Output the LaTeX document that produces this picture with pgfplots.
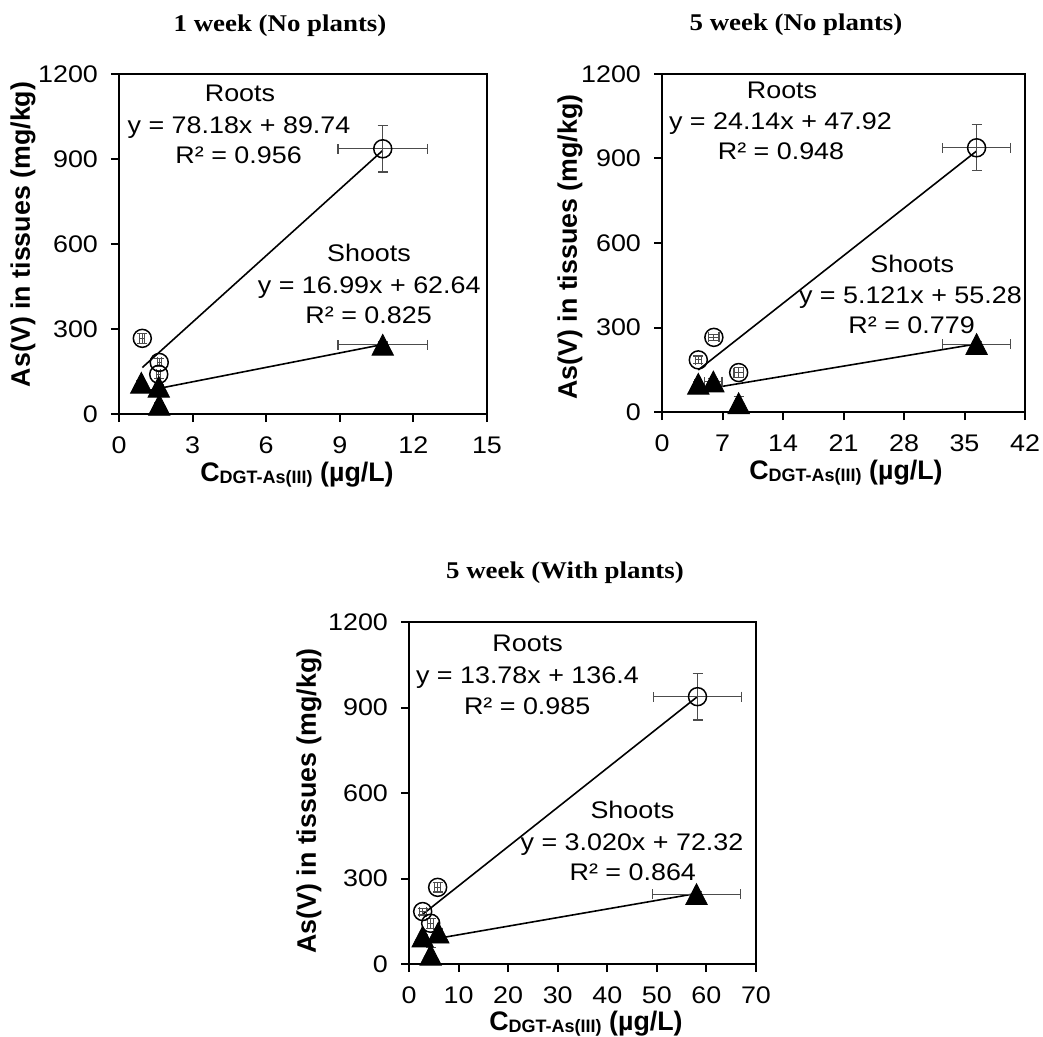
\documentclass[border=0pt]{standalone}
\usepackage{pgfplots}
\pgfplotsset{compat=1.18}
\usepackage{fontspec}
\setmainfont{Liberation Sans}[FakeStretch=1.12]
\newfontfamily\titlefont{Liberation Serif}[FakeStretch=1.12]
\newfontfamily\labfont{Liberation Sans}

% Soil data: DGT-measured As(III) vs As(V) in plant tissues
\pgfplotstableread{
x     y    ex    ey
0.95  267  0.10  18
1.64  182  0.08  14
1.62  140  0.08  14
10.75 936  1.82  82
}\rootsA
\pgfplotstableread{
x     y    ex    ey
0.91  110  0.05  8
1.62  96   0.06  8
1.64  32   0.06  8
10.75 244  1.82  10
}\shootsA
\pgfplotstableread{
x     y    ex    ey
6.00  265  0.60  10
4.20  185  0.35  14
8.87  140  0.55  18
36.40 938  3.95  82
}\rootsB
\pgfplotstableread{
x     y    ex    ey
4.20  100  0.40  8
5.94  108  1.00  10
8.87  31   0.30  25
36.40 241  3.95  10
}\shootsB
\pgfplotstableread{
x     y    ex    ey
5.78  269  0.60  16
2.76  184  0.70  12
4.37  143  0.60  18
58.20 938  8.90  82
}\rootsC
\pgfplotstableread{
x     y    ex    ey
2.76  96   0.50  8
5.90  110  0.80  10
4.37  32   0.40  25
58.00 245  8.90  10
}\shootsC

\newcommand{\tickfont}{\fontsize{12}{14}\selectfont}
\newcommand{\ticktext}[1]{{\tickfont\pgfmathprintnumber[assume math mode=true,1000 sep={},fixed,precision=0]{#1}}}

\pgfplotsset{
  panel/.style={
    scale only axis, anchor=south west,
    ymin=0, ymax=1200, ytick={0,300,...,1200},
    tick align=outside, tick pos=left, major tick length=4pt,
    axis line style={line width=1pt},
    every tick/.style={black, line width=1pt},
    xticklabel={\ticktext{\tick}},
    yticklabel={\ticktext{\tick}},
    xticklabel style={yshift=-4pt},
    yticklabel style={xshift=-3pt},
    clip=false,
  },
  errs/.style={
    error bars/.cd, x dir=both, x explicit, y dir=both, y explicit,
    error bar style={black!70, line width=0.6pt},
    error mark options={black!70, line width=0.6pt, mark size=2.5pt, rotate=90},
  },
  rootmark/.style={only marks, mark=o, mark size=4.5pt,
    mark options={black, line width=0.75pt}, errs},
  shootmark/.style={only marks, mark=triangle*, mark size=6.2pt,
    mark options={black, fill=black, yshift=-1.7pt, yscale=1.12}, errs},
  trend/.style={black, line width=0.8pt, no marks},
}

\newcommand{\xlab}{\textbf{C\raisebox{-1.2pt}{\fontsize{9}{10}\selectfont DGT-As(III)} (µg/L)}}

\begin{document}
\begin{tikzpicture}
\useasboundingbox (0,0) rectangle (521.5pt,-518.5pt);

% 1 week, no plants
\begin{axis}[panel, at={(59.5pt,-207pt)}, width=184pt, height=170pt,
  xmin=0, xmax=15, xtick={0,3,...,15}]
  \addplot[trend] coordinates {(0.95,164.0) (10.75,930.2)};
  \addplot[trend] coordinates {(0.91,78.1) (10.75,245.3)};
  \addplot[rootmark] table[x=x,y=y,x error=ex,y error=ey] {\rootsA};
  \addplot[shootmark] table[x=x,y=y,x error=ex,y error=ey] {\shootsA};
\end{axis}

% 5 week, no plants
\begin{axis}[panel, at={(331pt,-206pt)}, width=181.5pt, height=169pt,
  xmin=0, xmax=42, xtick={0,7,...,42}]
  \addplot[trend] coordinates {(4.2,149.3) (36.4,926.6)};
  \addplot[trend] coordinates {(4.2,76.8) (36.4,241.7)};
  \addplot[rootmark] table[x=x,y=y,x error=ex,y error=ey] {\rootsB};
  \addplot[shootmark] table[x=x,y=y,x error=ex,y error=ey] {\shootsB};
\end{axis}

% 5 week, with plants
\begin{axis}[panel, at={(204.5pt,-482pt)}, width=173.5pt, height=171pt,
  xmin=0, xmax=70, xtick={0,10,...,70}]
  \addplot[trend] coordinates {(2.76,174.4) (58.2,938.4)};
  \addplot[trend] coordinates {(2.76,80.7) (58.2,248.1)};
  \addplot[rootmark] table[x=x,y=y,x error=ex,y error=ey] {\rootsC};
  \addplot[shootmark] table[x=x,y=y,x error=ex,y error=ey] {\shootsC};
\end{axis}

% panel titles
\begin{scope}[every node/.style={font=\titlefont\bfseries\fontsize{12}{14}\selectfont, inner sep=0pt}]
  \node at (140pt,-13pt) {1 week (No plants)};
  \node at (398pt,-12.5pt) {5 week (No plants)};
  \node at (282.5pt,-286.5pt) {5 week (With plants)};
\end{scope}

% axis titles
\begin{scope}[every node/.style={font=\labfont\bfseries\fontsize{13.4}{15}\selectfont, inner sep=0pt, rotate=90}]
  \node at (11.5pt,-117.2pt) {As(V) in tissues (mg/kg)};
  \node at (285pt,-123.5pt) {As(V) in tissues (mg/kg)};
  \node at (154.5pt,-400.5pt) {As(V) in tissues (mg/kg)};
\end{scope}
\begin{scope}[every node/.style={font=\labfont\fontsize{13.4}{15}\selectfont, inner sep=0pt, anchor=base}]
  \node at (148.5pt,-240.5pt) {\xlab};
  \node at (423pt,-239.5pt) {\xlab};
  \node at (293pt,-515pt) {\xlab};
\end{scope}

% regression annotations
\begin{scope}[every node/.style={font=\fontsize{12}{14}\selectfont, inner sep=0pt, anchor=base}]
  \node at (120pt,-50.8pt) {Roots};
  \node at (119.5pt,-66.7pt) {y = 78.18x + 89.74};
  \node at (119.3pt,-82pt) {R² = 0.956};
  \node at (184.5pt,-130.8pt) {Shoots};
  \node at (184.6pt,-146.7pt) {y = 16.99x + 62.64};
  \node at (184.3pt,-162pt) {R² = 0.825};

  \node at (391pt,-49.5pt) {Roots};
  \node at (390.2pt,-65pt) {y = 24.14x + 47.92};
  \node at (390.5pt,-80pt) {R² = 0.948};
  \node at (456.1pt,-136.3pt) {Shoots};
  \node at (455.2pt,-151.7pt) {y = 5.121x + 55.28};
  \node at (455.8pt,-166.7pt) {R² = 0.779};

  \node at (263.8pt,-325.8pt) {Roots};
  \node at (263.7pt,-341.7pt) {y = 13.78x + 136.4};
  \node at (263.6pt,-357pt) {R² = 0.985};
  \node at (316.2pt,-409.2pt) {Shoots};
  \node at (316pt,-425pt) {y = 3.020x + 72.32};
  \node at (316.4pt,-440pt) {R² = 0.864};
\end{scope}
\end{tikzpicture}
\end{document}
